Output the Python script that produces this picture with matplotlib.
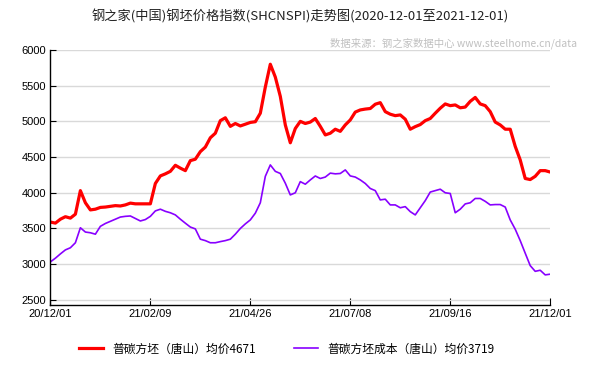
import matplotlib
matplotlib.use("Agg")
import matplotlib.pyplot as plt
import numpy as np

plt.rcParams['font.family'] = ['Noto Sans CJK SC', 'DejaVu Sans']

# 数据（按图读取，等间距采样）
tick_labels = ['20/12/01', '21/02/09', '21/04/26', '21/07/08', '21/09/16', '21/12/01']

billet_price = [
    3590, 3575, 3630, 3665, 3645, 3700, 4030, 3860, 3760, 3770,
    3795, 3800, 3810, 3820, 3815, 3830, 3855, 3845, 3845, 3845,
    3845, 4130, 4236, 4265, 4300, 4385, 4345, 4310, 4450, 4470,
    4576, 4640, 4770, 4834, 5010, 5050, 4930, 4970, 4936, 4960,
    4985, 4995, 5114, 5480, 5800, 5620, 5350, 4950, 4700, 4900,
    5000, 4970, 4990, 5040, 4930, 4810, 4834, 4890, 4860, 4950,
    5020, 5130, 5160, 5172, 5180, 5240, 5262, 5136, 5100, 5080,
    5090, 5030, 4890, 4926, 4955, 5010, 5040, 5114, 5184, 5244,
    5220, 5230, 5190, 5200, 5280, 5335, 5244, 5220, 5136, 4990,
    4950, 4890, 4890, 4650, 4460, 4200, 4185, 4230, 4310, 4310,
    4290,
]

billet_cost = [
    3032, 3084, 3144, 3200, 3230, 3300, 3510, 3450, 3440, 3420,
    3530, 3570, 3600, 3630, 3660, 3670, 3675, 3640, 3605, 3625,
    3670, 3746, 3770, 3740, 3720, 3690, 3630, 3574, 3520, 3494,
    3350, 3330, 3300, 3300, 3316, 3330, 3350, 3420, 3500, 3564,
    3620, 3714, 3860, 4230, 4390, 4300, 4270, 4134, 3970, 4000,
    4156, 4120, 4180, 4235, 4200, 4220, 4275, 4265, 4270, 4320,
    4236, 4220, 4180, 4130, 4060, 4030, 3900, 3910, 3830, 3830,
    3790, 3806, 3736, 3690, 3790, 3890, 4010, 4030, 4050, 4000,
    3990, 3720, 3770, 3844, 3860, 3920, 3920, 3880, 3830, 3835,
    3835, 3800, 3620, 3490, 3330, 3154, 2980, 2900, 2915, 2850,
    2860,
]

price_avg = 4671
cost_avg = 3719

x = np.arange(len(billet_price))

fig = plt.figure(figsize=(6, 3.7), dpi=100)
ax = fig.add_axes([0.084, 0.176, 0.833, 0.689])

# 网格线
ax.set_yticks(range(2500, 6001, 500))
ax.grid(True, axis='y', color='#d9d9d9', linewidth=1)
ax.set_axisbelow(True)

# 两条曲线
l1, = ax.plot(x, billet_price, color='#ff0000', linewidth=2.3)
l2, = ax.plot(x, billet_cost, color='#8800ff', linewidth=1.2)

ax.set_xlim(0, len(x) - 1)
ax.set_ylim(2430, 6000)
ax.set_xticks(np.linspace(0, len(x) - 1, len(tick_labels)))
ax.set_xticklabels(tick_labels)

for s in ['top', 'right']:
    ax.spines[s].set_visible(False)
ax.spines['left'].set_linewidth(1)
ax.spines['bottom'].set_linewidth(1)
ax.tick_params(axis='y', direction='in', length=4, labelsize=8, colors='#000000', pad=3)
ax.tick_params(axis='x', direction='in', length=5, labelsize=8, pad=3)
for lab in ax.get_xticklabels() + ax.get_yticklabels():
    lab.set_family(['Liberation Sans', 'DejaVu Sans'])

# 标题与来源
fig.text(0.5, 0.955, '钢之家(中国)钢坯价格指数(SHCNSPI)走势图(2020-12-01至2021-12-01)',
         ha='center', va='center', fontsize=9.5, color='#222222')
fig.text(0.962, 0.883, '数据来源：钢之家数据中心 www.steelhome.cn/data',
         ha='right', va='center', fontsize=7.5, color='#c0c0c0')

# 图例
fig.legend([l1, l2],
           [f'普碳方坯（唐山）均价{price_avg}', f'普碳方坯成本（唐山）均价{cost_avg}'],
           loc='center', bbox_to_anchor=(0.478, 0.057), ncol=2, frameon=False,
           fontsize=8.5, handlelength=2.0, handletextpad=0.8, columnspacing=3.2)

fig.savefig('out.png', dpi=100)
